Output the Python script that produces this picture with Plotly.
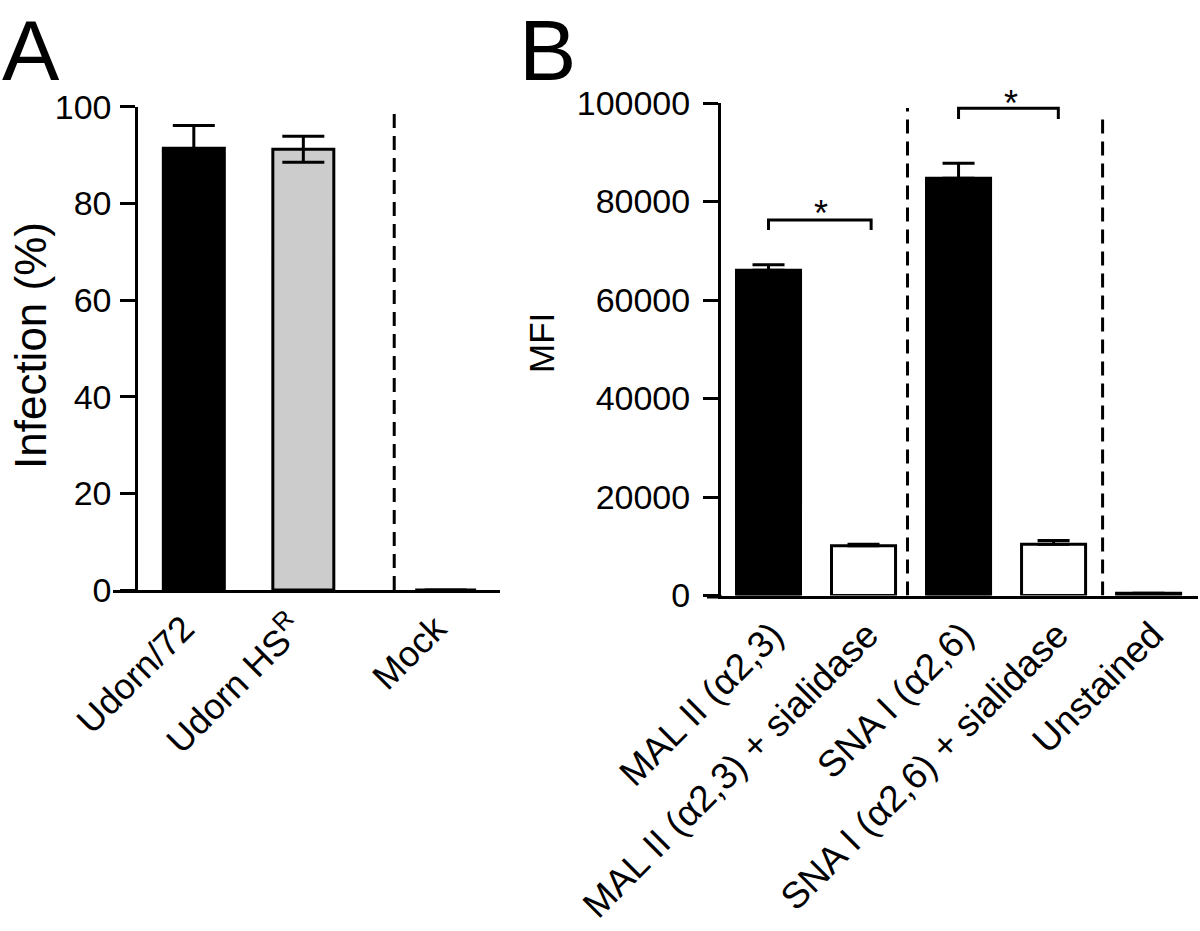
import plotly.graph_objects as go

# ---------------- data ----------------
a_categories = ["Udorn/72", "Udorn HS<sup>R</sup>", "Mock"]
a_values = [91.4, 91.2, 0]
a_errors = [4.7, 2.7, 0]

b_categories = ["MAL II (α2,3)", "MAL II (α2,3) + sialidase", "SNA I (α2,6)",
                "SNA I (α2,6) + sialidase", "Unstained"]
b_values = [66050, 10100, 84740, 10420, 470]
b_errors = [1100, 300, 3040, 750, 0]

a_yticks = [0, 20, 40, 60, 80, 100]
b_yticks = [0, 20000, 40000, 60000, 80000, 100000]

# ---------------- layout constants ----------------
W, H = 1200, 931
FONT = "Liberation Sans, Arial, Helvetica, sans-serif"
a_pos = [0, 1, 2.3]
b_pos = [0, 1, 2, 3, 4]
a_colors = ["black", "#cccccc", "white"]
b_colors = ["black", "white", "black", "white", "white"]


def px(x):
    return x / W


def py(y):
    return 1 - y / H


fig = go.Figure()

fig.add_trace(go.Bar(
    x=a_pos, y=a_values, width=0.557,
    marker=dict(color=a_colors, line=dict(color="black", width=3)),
    error_y=dict(type="data", array=a_errors, color="black", thickness=3, width=21),
    xaxis="x", yaxis="y", showlegend=False,
))

fig.add_trace(go.Bar(
    x=b_pos, y=b_values, width=0.674,
    marker=dict(color=b_colors, line=dict(color="black", width=3)),
    error_y=dict(type="data", array=b_errors, arrayminus=[0] * len(b_errors),
                 color="black", thickness=3, width=16),
    xaxis="x2", yaxis="y2", showlegend=False,
))

axis_common = dict(showline=True, linecolor="black", linewidth=3, showgrid=False,
                   zeroline=False, color="black", automargin=False)

fig.update_layout(
    template="none",
    width=W, height=H, margin=dict(l=0, r=0, t=0, b=0, autoexpand=False),
    paper_bgcolor="white", plot_bgcolor="white",
    font=dict(family=FONT, color="black"),
    xaxis=dict(domain=[px(138.3), px(500)], range=[-0.507, 2.796],
               tickvals=a_pos, ticktext=a_categories, tickangle=-45, ticks="",
               ticklabelshift=-10,
               tickfont=dict(size=36, family=FONT), anchor="y", **axis_common),
    yaxis=dict(domain=[py(590), py(106.7)], range=[0, 100], tickvals=a_yticks,
               ticktext=[str(v) for v in a_yticks],
               ticks="outside", ticklen=15, tickwidth=3, tickcolor="black",
               ticklabelstandoff=2,
               tickfont=dict(size=34, family=FONT), anchor="x", **axis_common),
    xaxis2=dict(domain=[px(721), px(1198)], range=[-0.5, 4.52],
                tickvals=b_pos, ticktext=b_categories, tickangle=-45, ticks="",
                ticklabelshift=4,
                tickfont=dict(size=37, family=FONT), anchor="y2", **axis_common),
    yaxis2=dict(domain=[py(595.5), py(103)], range=[0, 100000], tickvals=b_yticks,
                ticktext=[str(v) for v in b_yticks],
                ticks="outside", ticklen=15, tickwidth=3, tickcolor="black",
                ticklabelstandoff=6,
                tickfont=dict(size=34, family=FONT), anchor="x2", **axis_common),
)

dash = "14px,8px"
shapes = [
    # dashed separators
    dict(type="line", xref="x", yref="y", x0=1.83, x1=1.83, y0=0, y1=99.6,
         line=dict(color="black", width=3, dash=dash)),
    dict(type="line", xref="x2", yref="y2", x0=1.463, x1=1.463, y0=0, y1=98985,
         line=dict(color="black", width=3, dash=dash)),
    dict(type="line", xref="x2", yref="y2", x0=3.516, x1=3.516, y0=0, y1=97970,
         line=dict(color="black", width=3, dash=dash)),
    # x-axis extensions left of the y axes
    dict(type="line", xref="paper", yref="paper", x0=px(113), x1=px(139), y0=py(591.5), y1=py(591.5),
         line=dict(color="black", width=3)),
    dict(type="line", xref="paper", yref="paper", x0=px(707), x1=px(722), y0=py(597), y1=py(597),
         line=dict(color="black", width=3)),
    # significance brackets
    dict(type="path", xref="x2", yref="y2",
         path="M 0,74210 L 0,76240 L 1.08,76240 L 1.08,74210",
         line=dict(color="black", width=3)),
    dict(type="path", xref="x2", yref="y2",
         path="M 2,96750 L 2,98920 L 3.05,98920 L 3.05,96750",
         line=dict(color="black", width=3)),
]
fig.update_layout(shapes=shapes)

annotations = [
    dict(text="A", x=px(0), y=1, xref="paper", yref="paper", xanchor="left",
         yanchor="top", showarrow=False, font=dict(size=86, family=FONT, color="black")),
    dict(text="B", x=px(517), y=1, xref="paper", yref="paper", xanchor="left",
         yanchor="top", showarrow=False, font=dict(size=86, family=FONT, color="black")),
    dict(text="Infection (%)", x=px(30), y=py(346), xref="paper", yref="paper",
         xanchor="center", yanchor="middle", textangle=-90, showarrow=False,
         font=dict(size=44, family=FONT, color="black")),
    dict(text="MFI", x=px(541), y=py(343), xref="paper", yref="paper",
         xanchor="center", yanchor="middle", textangle=-90, showarrow=False,
         font=dict(size=35, family=FONT, color="black")),
    dict(text="*", x=px(821), y=py(214), xref="paper", yref="paper",
         xanchor="center", yanchor="middle", showarrow=False,
         font=dict(size=36, family=FONT, color="black")),
    dict(text="*", x=px(1011), y=py(103), xref="paper", yref="paper",
         xanchor="center", yanchor="middle", showarrow=False,
         font=dict(size=36, family=FONT, color="black")),
]
fig.update_layout(annotations=annotations)

fig.write_html("out.html", config={"displayModeBar": False},
               post_script="document.body.style.margin='0';")
